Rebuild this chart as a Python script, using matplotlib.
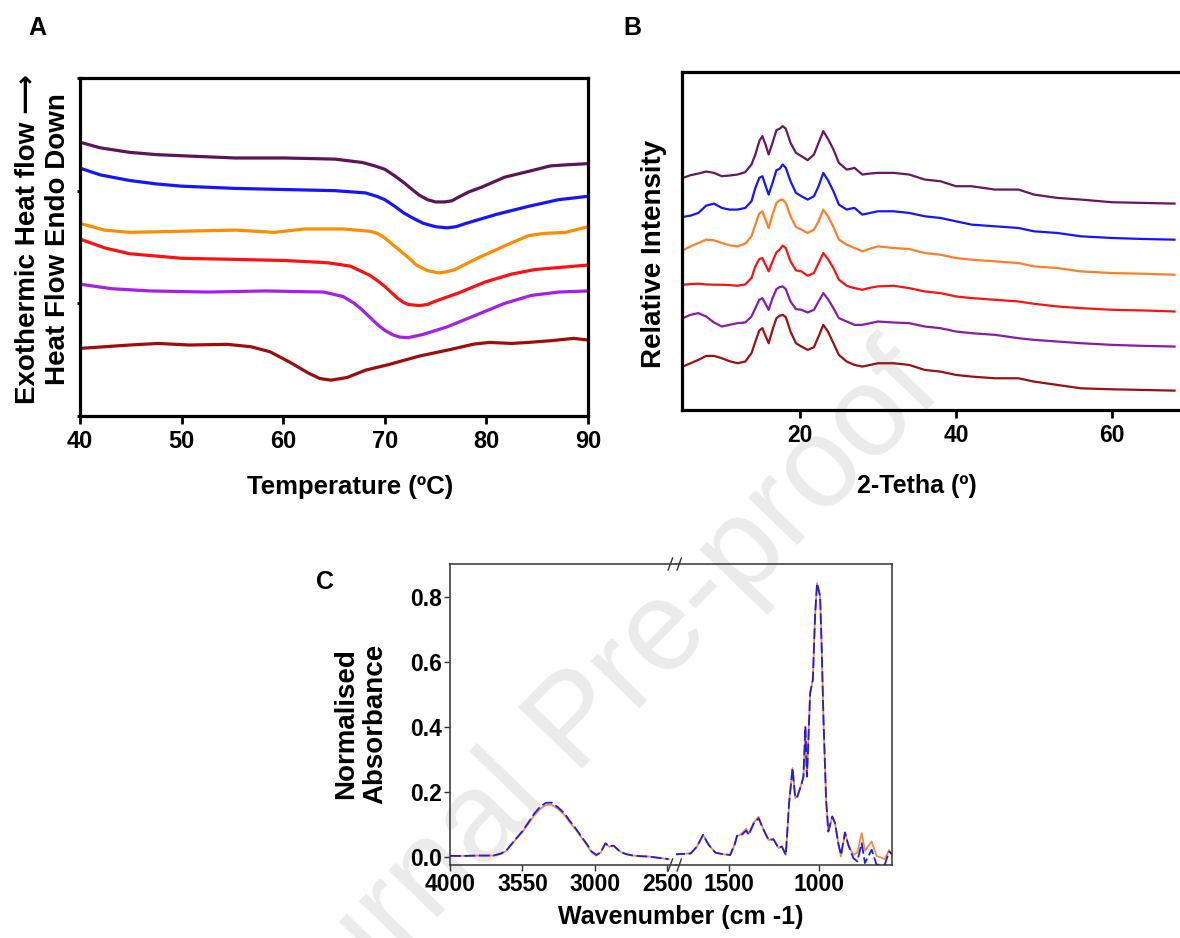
import matplotlib
matplotlib.use("Agg")
import matplotlib.pyplot as plt

# ---- panel A : DSC thermograms (heat flow, arbitrary offset units) ----
dsc_colors = ["#5e1458", "#1414ff", "#ff8c00", "#ff1010", "#a61ee8", "#a00c0c"]

dsc_t1 = [40, 42, 44.9, 47.5, 50, 55.3, 60.2, 65.1, 67.8, 69, 70, 71, 71.9, 72.7, 73.4, 74.2, 75, 75.9, 76.6, 77.2, 78.3, 79.5, 81.8, 84.1, 86.3, 88, 90]
dsc_h1 = [2.43, 2.38, 2.34, 2.32, 2.31, 2.29, 2.29, 2.28, 2.25, 2.22, 2.19, 2.13, 2.07, 2.01, 1.96, 1.92, 1.90, 1.90, 1.91, 1.94, 1.99, 2.03, 2.12, 2.17, 2.22, 2.23, 2.24]

dsc_t2 = [40, 42, 44.9, 47.5, 50, 55.3, 60.2, 65.1, 68.1, 69.2, 70, 71, 71.9, 72.9, 73.8, 75, 76.1, 77, 78, 79.5, 81, 84.1, 87.1, 90]
dsc_h2 = [2.20, 2.14, 2.09, 2.06, 2.04, 2.02, 2.01, 2.00, 1.98, 1.95, 1.92, 1.86, 1.80, 1.75, 1.71, 1.68, 1.67, 1.68, 1.71, 1.75, 1.79, 1.86, 1.92, 1.95]

dsc_t3 = [40, 42.4, 44.9, 50, 55.3, 59.1, 62.1, 65.9, 68.5, 69.3, 70, 70.8, 71.6, 72.4, 73.1, 74.2, 75.3, 76.1, 76.9, 78, 79.1, 81.8, 84.1, 85.6, 87.8, 90]
dsc_h3 = [1.71, 1.65, 1.63, 1.64, 1.65, 1.63, 1.66, 1.66, 1.64, 1.62, 1.58, 1.52, 1.46, 1.40, 1.34, 1.29, 1.27, 1.28, 1.30, 1.35, 1.40, 1.51, 1.60, 1.62, 1.63, 1.68]

dsc_t4 = [40, 42.5, 44.9, 50, 55.3, 60.2, 64.4, 66.6, 68.5, 69.3, 70, 70.6, 71.2, 71.8, 72.3, 73.4, 74.2, 75, 77.2, 79.9, 82.5, 84.8, 90]
dsc_h4 = [1.57, 1.49, 1.44, 1.40, 1.39, 1.38, 1.36, 1.33, 1.25, 1.20, 1.15, 1.10, 1.05, 1.01, 0.99, 0.98, 0.99, 1.02, 1.09, 1.19, 1.26, 1.30, 1.34]

dsc_t5 = [40, 43.1, 46.9, 52.6, 58.3, 64, 65.9, 67, 67.8, 68.6, 69.3, 70, 70.8, 71.5, 72.3, 73.8, 76.1, 79.1, 81.8, 84.4, 87.1, 90]
dsc_h5 = [1.17, 1.13, 1.11, 1.10, 1.11, 1.10, 1.06, 1.00, 0.94, 0.87, 0.81, 0.76, 0.72, 0.70, 0.695, 0.725, 0.79, 0.90, 1.00, 1.07, 1.10, 1.11]

dsc_t6 = [40, 44.9, 47.7, 50.7, 54.5, 56.8, 58.7, 60.6, 62.5, 63.6, 64.7, 66.3, 68.1, 70.4, 73.4, 76.5, 78.8, 80.3, 82.5, 84.1, 86.3, 88.6, 90]
dsc_h6 = [0.60, 0.63, 0.644, 0.63, 0.636, 0.615, 0.57, 0.48, 0.38, 0.333, 0.318, 0.342, 0.407, 0.457, 0.532, 0.591, 0.639, 0.653, 0.644, 0.653, 0.668, 0.689, 0.674]

# ---- panel B : XRD patterns (relative intensity, stacked) ----
xrd_colors = ["#6b1560", "#1414ff", "#ff7f27", "#ff1010", "#8b1aa8", "#9b1010"]
two_theta = [5, 6, 7, 8, 9, 10, 11, 12, 13, 13.8, 14.3, 14.8, 15.2, 15.6, 16.0, 16.5, 17.0, 17.4, 17.8, 18.2,
             18.8, 19.5, 20.2, 21, 21.8, 22.4, 23, 23.6, 24.3, 25, 26, 26.5, 27, 28, 29, 30, 32, 34, 36, 38,
             40, 42, 45, 48, 50, 53, 56, 60, 64, 68]
xrd_1 = [695, 703, 708, 714, 710, 700, 702, 705, 712, 735, 765, 805, 820, 795, 765, 800, 838, 842, 850, 842,
         800, 770, 760, 748, 765, 800, 835, 812, 780, 740, 720, 722, 725, 705, 708, 710, 710, 705, 690, 685,
         670, 670, 660, 660, 645, 635, 630, 622, 620, 618]
xrd_2 = [578, 582, 590, 612, 618, 605, 600, 600, 605, 625, 665, 695, 700, 672, 645, 680, 718, 722, 735, 725,
         685, 650, 640, 630, 640, 670, 710, 688, 655, 615, 600, 603, 605, 585, 590, 595, 595, 590, 580, 575,
         565, 555, 550, 545, 535, 530, 520, 515, 512, 510]
xrd_3 = [478, 490, 500, 510, 508, 500, 493, 490, 498, 520, 555, 588, 595, 570, 545, 585, 620, 628, 630, 620,
         580, 548, 540, 530, 540, 565, 600, 580, 548, 510, 495, 490, 485, 475, 483, 490, 485, 482, 470, 465,
         455, 450, 445, 440, 430, 425, 415, 410, 408, 405]
xrd_4 = [375, 377, 378, 376, 375, 375, 374, 372, 376, 395, 430, 452, 455, 435, 415, 445, 472, 480, 492, 485,
         445, 418, 415, 402, 410, 440, 470, 452, 425, 390, 372, 368, 365, 360, 366, 370, 372, 365, 355, 350,
         340, 335, 330, 325, 318, 310, 305, 300, 298, 295]
xrd_5 = [275, 285, 290, 280, 262, 250, 255, 260, 262, 280, 305, 330, 335, 318, 300, 335, 362, 368, 370, 362,
         325, 302, 300, 292, 300, 325, 350, 332, 305, 275, 265, 260, 255, 255, 260, 265, 262, 260, 250, 245,
         235, 230, 225, 215, 210, 205, 200, 195, 192, 190]
xrd_6 = [130, 140, 150, 162, 162, 155, 146, 140, 145, 170, 205, 238, 245, 222, 200, 240, 275, 282, 285, 278,
         235, 200, 190, 180, 188, 220, 255, 235, 200, 165, 145, 140, 135, 130, 135, 140, 140, 135, 120, 115,
         105, 100, 95, 95, 85, 75, 65, 62, 60, 58]

# ---- panel C : FTIR, broken wavenumber axis ----
wn_hi = [4000, 3900, 3800, 3700, 3650, 3610, 3560, 3500, 3460, 3420, 3380, 3340, 3300, 3256, 3210, 3174,
         3130, 3092, 3050, 3023, 2990, 2960, 2927, 2900, 2872, 2840, 2818, 2780, 2736, 2680, 2626, 2560, 2490]
abs_hi_orange = [0.002, 0.002, 0.003, 0.003, 0.008, 0.018, 0.045, 0.075, 0.100, 0.126, 0.146, 0.158, 0.160,
                 0.147, 0.128, 0.106, 0.082, 0.058, 0.032, 0.013, 0.003, 0.012, 0.040, 0.030, 0.033, 0.020,
                 0.013, 0.007, 0.003, 0.001, 0.0, -0.004, -0.008]
abs_hi_blue = [0.002, 0.002, 0.003, 0.003, 0.009, 0.019, 0.047, 0.078, 0.104, 0.131, 0.152, 0.165, 0.166,
               0.152, 0.133, 0.110, 0.085, 0.061, 0.035, 0.016, 0.005, 0.013, 0.041, 0.031, 0.034, 0.021,
               0.013, 0.007, 0.003, 0.001, 0.0, -0.004, -0.008]

wn_lo = [1800, 1760, 1710, 1674, 1641, 1610, 1573, 1530, 1491, 1465, 1454, 1440, 1426, 1403, 1390, 1363,
         1335, 1311, 1280, 1253, 1225, 1207, 1185, 1167, 1148, 1133, 1121, 1097, 1088, 1077, 1069, 1064,
         1051, 1036, 1024, 1013, 996, 987, 978, 963, 951, 929, 914, 896, 881, 859, 841, 813, 791, 767,
         749, 712, 685, 640, 616, 600]
abs_lo_orange = [0.008, 0.008, 0.010, 0.031, 0.067, 0.036, 0.012, 0.007, 0.005, 0.040,
                 0.062, 0.066, 0.072, 0.086, 0.070, 0.104, 0.122, 0.088, 0.051, 0.053,
                 0.026, 0.031, 0.005, 0.164, 0.272, 0.180, 0.185, 0.226, 0.246, 0.400,
                 0.246, 0.308, 0.503, 0.544, 0.738, 0.841, 0.800, 0.636, 0.431, 0.174,
                 0.077, 0.123, 0.103, 0.041, 0.000, 0.074, 0.036, 0.005, 0.012, 0.072,
                 0.018, 0.046, 0.002, -0.008, 0.020, 0.005]
abs_lo_blue = [0.006, 0.008, 0.009, 0.031, 0.067, 0.036, 0.012, 0.007, 0.005, 0.040,
               0.064, 0.063, 0.068, 0.080, 0.066, 0.100, 0.118, 0.086, 0.051, 0.053,
               0.026, 0.031, 0.005, 0.164, 0.272, 0.180, 0.185, 0.226, 0.246, 0.400,
               0.246, 0.308, 0.503, 0.544, 0.738, 0.841, 0.800, 0.636, 0.431, 0.174,
               0.077, 0.123, 0.103, 0.041, 0.005, 0.074, 0.036, -0.005, -0.015, 0.041,
               -0.020, 0.021, -0.025, -0.025, 0.015, 0.008]

ftir_ticks_hi = [4000, 3500, 3000, 2500]
ftir_ticklabels_hi = ["4000", "3550", "3000", "2500"]
ftir_ticks_lo = [1500, 1000]

plt.rcParams["font.family"] = ["Liberation Sans", "DejaVu Sans"]
plt.rcParams["font.weight"] = "bold"
plt.rcParams["axes.labelweight"] = "bold"

W, H = 1180, 938
fig = plt.figure(figsize=(W / 100, H / 100), dpi=100)

# watermark behind everything
fig.text(578 / W, 1 - 725 / H, "Journal Pre-proof", fontsize=92, fontweight="normal",
         color="#ebebeb", rotation=46, ha="center", va="center", zorder=-5)


def box(l, t, r, b):
    return [l / W, 1 - b / H, (r - l) / W, (b - t) / H]


# ---------------- A ----------------
axA = fig.add_axes(box(80, 78, 588, 416))
axA.set_facecolor("none")
dsc = [(dsc_t1, dsc_h1), (dsc_t2, dsc_h2), (dsc_t3, dsc_h3),
       (dsc_t4, dsc_h4), (dsc_t5, dsc_h5), (dsc_t6, dsc_h6)]
for (t, h), c in zip(dsc, dsc_colors):
    axA.plot(t, h, color=c, lw=2.3, solid_joinstyle="round")
axA.set_xlim(40, 90)
axA.set_ylim(0, 3)
axA.set_xticks([40, 50, 60, 70, 80, 90])
axA.set_yticks([0, 1, 2, 3])
axA.set_yticklabels([])
axA.tick_params(axis="x", direction="out", length=6, width=2, labelsize=17, pad=4)
axA.tick_params(axis="y", direction="out", length=2.5, width=2)
for s in axA.spines.values():
    s.set_linewidth(2.3)
axA.set_xlabel("Temperature (ºC)", fontsize=18.5)
axA.xaxis.set_label_coords(0.531, -0.175)
axA.set_ylabel("Exothermic Heat flow \u27f6\nHeat Flow Endo Down", fontsize=20, linespacing=1.2)
axA.yaxis.set_label_coords(-0.018, 0.524)
fig.text(37 / W, 1 - 28 / H, "A", fontsize=18, ha="center", va="center")

# ---------------- B ----------------
axB = fig.add_axes(box(682, 72, 1180, 410))
axB.set_facecolor("none")
for ys, c in zip([xrd_1, xrd_2, xrd_3, xrd_4, xrd_5, xrd_6], xrd_colors):
    axB.plot(two_theta, ys, color=c, lw=1.6)
axB.set_xlim(4.9, 68.7)
axB.set_ylim(0, 1012)
axB.set_xticks([20, 40, 60])
axB.set_yticks([])
axB.tick_params(axis="x", direction="out", length=6, width=2, labelsize=16.5, pad=4)
axB.spines["right"].set_visible(False)
for s in ["left", "top", "bottom"]:
    axB.spines[s].set_linewidth(2.3)
axB.set_xlabel("2-Tetha (º)", fontsize=18)
axB.xaxis.set_label_coords(0.472, -0.19)
axB.set_ylabel("Relative Intensity", fontsize=20)
axB.yaxis.set_label_coords(-0.03, 0.462)
fig.text(632 / W, 1 - 28 / H, "B", fontsize=18, ha="center", va="center")

# ---------------- C (broken axis) ----------------
axC1 = fig.add_axes(box(450, 564, 676, 865))
axC2 = fig.add_axes(box(676, 564, 892, 865))
for ax in (axC1, axC2):
    ax.set_facecolor("none")
    ax.set_ylim(-0.026, 0.9)
    for s in ax.spines.values():
        s.set_linewidth(1.1)
        s.set_color("#333333")
    ax.tick_params(direction="out", length=4, width=1, labelsize=16.5, pad=2, color="#333333")

axC1.plot(wn_hi, abs_hi_orange, color="#f58a45", lw=1.3)
axC1.plot(wn_hi, abs_hi_blue, color="#1c1ce6", lw=1.3, ls=(0, (6, 2)))
axC2.plot(wn_lo, abs_lo_orange, color="#f58a45", lw=1.3)
axC2.plot(wn_lo, abs_lo_blue, color="#1c1ce6", lw=1.3, ls=(0, (6, 2)))

axC1.set_xlim(4000, 2440)
axC2.set_xlim(1790, 600)
axC1.set_xticks(ftir_ticks_hi)
axC1.set_xticklabels(ftir_ticklabels_hi)
axC2.set_xticks(ftir_ticks_lo)
axC1.set_yticks([0.0, 0.2, 0.4, 0.6, 0.8])
axC2.set_yticks([])
axC1.spines["right"].set_visible(False)
axC2.spines["left"].set_visible(False)

# break marks
kw = dict(color="#333333", lw=1.0, clip_on=False)
for yy in (0, 1):
    axC1.plot([0.965, 0.985], [yy - 0.02, yy + 0.02], transform=axC1.transAxes, **kw)
    axC2.plot([0.005, 0.025], [yy - 0.02, yy + 0.02], transform=axC2.transAxes, **kw)

axC1.set_ylabel("Normalised\nAbsorbance", fontsize=20, linespacing=1.15)
axC1.yaxis.set_label_coords(-0.274, 0.47)
fig.text(681 / W, 1 - 917 / H, "Wavenumber (cm -1)", fontsize=18, ha="center", va="center")
fig.text(325 / W, 1 - 582 / H, "C", fontsize=18, ha="center", va="center")

fig.savefig("out.png", dpi=100)
